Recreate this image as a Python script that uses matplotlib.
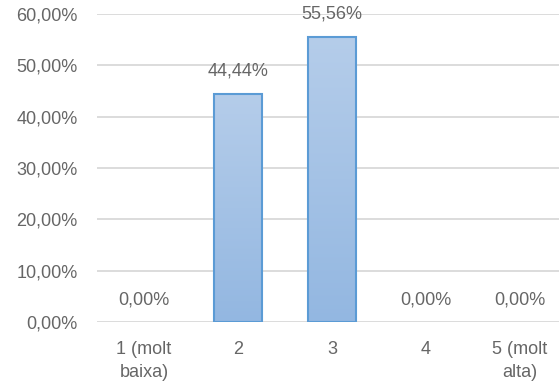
import matplotlib
matplotlib.use("Agg")
import matplotlib.pyplot as plt
import numpy as np
from matplotlib.colors import LinearSegmentedColormap

categories = ["1 (molt\nbaixa)", "2", "3", "4", "5 (molt\nalta)"]
values = [0.0, 44.44, 55.56, 0.0, 0.0]
yticks = [0, 10, 20, 30, 40, 50, 60]

TEXT = "#666666"
FS = 13
plt.rcParams["font.family"] = ["Liberation Sans", "DejaVu Sans"]

fig = plt.figure(figsize=(5.59, 3.87), dpi=100)
ax = fig.add_axes([97 / 559, 65 / 387, 470 / 559, 308 / 387])

x = np.arange(len(categories))
bars = ax.bar(x, values, width=0.51, color="none", edgecolor="#5b9bd5", linewidth=1.5, zorder=3)

cmap = LinearSegmentedColormap.from_list("g", ["#93b7e1", "#b5cdea"])
grad = np.linspace(0, 1, 256).reshape(-1, 1)
for b in bars:
    h = b.get_height()
    if h <= 0:
        b.set_visible(False)
        continue
    x0 = b.get_x()
    im = ax.imshow(grad, cmap=cmap, origin="lower", aspect="auto",
                   extent=[x0, x0 + b.get_width(), 0, h], zorder=2)
    im.set_clip_path(b)

for xi, v in zip(x, values):
    ax.annotate(f"{v:.2f}%".replace(".", ","), (xi, v), xytext=(0, 10),
                textcoords="offset points", ha="center", va="bottom",
                fontsize=FS, color=TEXT)

ax.set_xlim(-0.5, len(categories) - 0.5)
ax.set_ylim(0, 60)
ax.set_yticks(yticks)
ax.set_yticklabels([f"{t:.2f}%".replace(".", ",") for t in yticks])
ax.set_xticks(x)
ax.set_xticklabels(categories, linespacing=1.45)
ax.grid(axis="y", color="#d9d9d9", linewidth=1.3, zorder=0)
ax.set_axisbelow(True)
for s in ax.spines.values():
    s.set_visible(False)
ax.tick_params(length=0, colors=TEXT, labelsize=FS)
ax.tick_params(axis="x", pad=14)
ax.tick_params(axis="y", pad=14)

fig.savefig("out.png", dpi=100)
